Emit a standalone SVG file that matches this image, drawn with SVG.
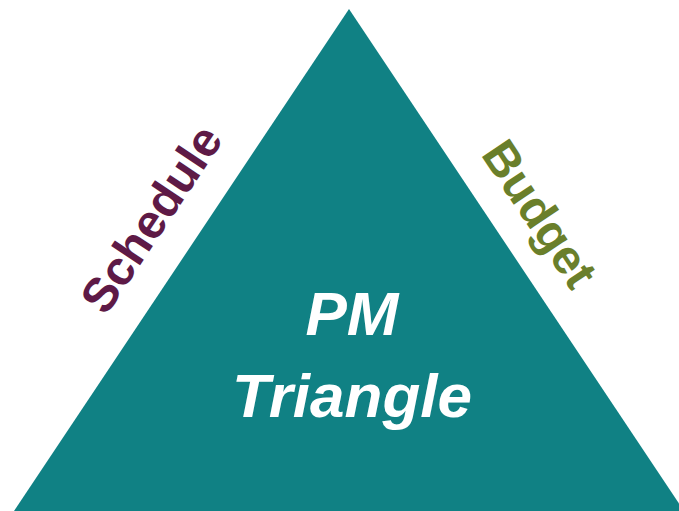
<svg xmlns="http://www.w3.org/2000/svg" width="679" height="511" viewBox="0 0 679 511">
<style>
.lbl{font-family:"Liberation Sans",Arial,sans-serif;font-weight:bold;text-anchor:middle}
.side{font-size:48px}
.main{font-size:62px;font-style:italic;fill:#ffffff}
</style>
<rect width="679" height="511" fill="#ffffff"/>
<g id="triangle">
<polygon points="349,9 14,511 684,511" fill="#108184"/>
<text class="lbl main" x="352" y="335">PM</text>
<text class="lbl main" x="352" y="417">Triangle</text>
</g>
<g id="schedule">
<text class="lbl side" fill="#5e1a46" transform="translate(165,228) rotate(-56.3)">Schedule</text>
</g>
<g id="budget">
<text class="lbl side" fill="#6a7f2b" transform="translate(526,223) rotate(56.3)">Budget</text>
</g>
</svg>
